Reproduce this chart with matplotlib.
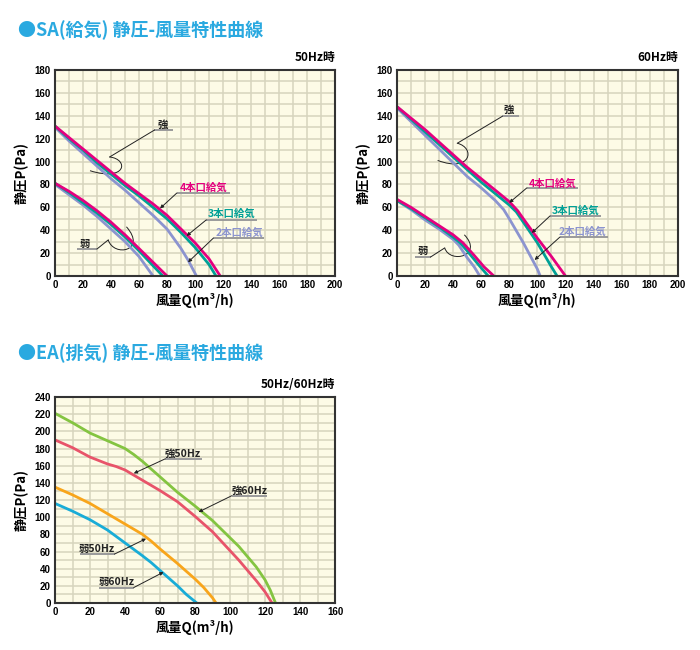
import numpy as np
import matplotlib
matplotlib.use("Agg")
import matplotlib.pyplot as plt
from matplotlib.path import Path
from matplotlib.patches import PathPatch
from matplotlib.ticker import MultipleLocator

plt.rcParams["font.family"] = ["Noto Sans CJK JP", "DejaVu Sans"]
plt.rcParams["font.weight"] = "bold"

# ---- SA 50Hz ----
sa50_x_4_strong = [0, 10, 20, 30, 40, 50, 60, 70, 80, 90, 100, 110, 118]
sa50_y_4_strong = [131, 121, 111, 101, 91, 81, 72, 63, 53, 41, 29, 15, 0]
sa50_x_3_strong = [0, 10, 20, 30, 40, 50, 60, 70, 80, 90, 100, 110, 115]
sa50_y_3_strong = [131, 120, 110, 99, 89, 79, 70, 60, 50, 38, 25, 10, 0]
sa50_x_2_strong = [0, 10, 20, 30, 40, 50, 60, 70, 80, 90, 95, 101]
sa50_y_2_strong = [130, 118, 107, 96, 85, 75, 64, 53, 41, 24, 14, 0]
sa50_x_4_weak = [0, 10, 20, 30, 40, 50, 60, 70, 80]
sa50_y_4_weak = [81, 74, 66, 57, 47, 36, 24, 12, 0]
sa50_x_3_weak = [0, 10, 20, 30, 40, 50, 60, 70, 77]
sa50_y_3_weak = [81, 73, 64, 55, 45, 34, 22, 9, 0]
sa50_x_2_weak = [0, 10, 20, 30, 40, 50, 60, 70]
sa50_y_2_weak = [80, 71, 62, 52, 41, 30, 17, 0]

# ---- SA 60Hz ----
sa60_x_4_strong = [0, 10, 20, 30, 40, 50, 60, 70, 80, 86, 90, 100, 110, 120]
sa60_y_4_strong = [148, 138, 128, 117, 106, 95, 85, 75, 65, 57, 50, 33, 17, 0]
sa60_x_3_strong = [0, 10, 20, 30, 40, 50, 60, 70, 80, 85, 90, 100, 110, 114]
sa60_y_3_strong = [148, 137, 126, 115, 104, 93, 82, 72, 62, 56, 47, 29, 8, 0]
sa60_x_2_strong = [0, 10, 20, 30, 40, 50, 60, 70, 76, 80, 90, 100, 102]
sa60_y_2_strong = [147, 135, 123, 111, 99, 87, 77, 66, 58, 50, 29, 6, 0]
sa60_x_4_weak = [0, 10, 20, 30, 40, 47, 55, 62, 69]
sa60_y_4_weak = [67, 60, 52, 44, 36, 29, 18, 8, 0]
sa60_x_3_weak = [0, 10, 20, 30, 40, 45, 50, 58, 65]
sa60_y_3_weak = [66, 59, 51, 43, 34, 29, 22, 10, 0]
sa60_x_2_weak = [0, 10, 20, 30, 40, 44, 50, 55, 59]
sa60_y_2_weak = [66, 58, 49, 41, 32, 27, 16, 8, 0]

# ---- EA ----
ea_x_strong60 = [0, 10, 20, 30, 40, 45, 50, 60, 70, 80, 90, 100, 105, 110, 115, 120, 123, 126]
ea_y_strong60 = [221, 210, 198, 189, 180, 173, 165, 147, 129, 113, 96, 76, 66, 54, 42, 27, 15, 0]
ea_x_strong50 = [0, 10, 20, 30, 35, 40, 50, 60, 70, 80, 90, 100, 105, 110, 115, 120, 124]
ea_y_strong50 = [190, 181, 170, 162, 159, 155, 143, 131, 118, 101, 83, 61, 50, 38, 26, 13, 0]
ea_x_weak50 = [0, 10, 20, 30, 40, 45, 50, 55, 60, 70, 80, 85, 90, 92]
ea_y_weak50 = [135, 126, 116, 104, 92, 86, 80, 72, 63, 46, 28, 18, 6, 0]
ea_x_weak60 = [0, 10, 20, 30, 40, 50, 55, 60, 70, 75, 81]
ea_y_weak60 = [116, 107, 97, 85, 70, 55, 47, 38, 20, 10, 0]

MAGENTA = "#e4007f"
TEAL = "#00a096"
LAVENDER = "#8c94cf"
GREEN = "#84c441"
RED = "#e8546a"
ORANGE = "#f8a51b"
BLUE = "#19acd7"
TITLE_C = "#2aa9e0"
BG = "#fdfbe6"
GRID_C = "#d6d5bd"

fig = plt.figure(figsize=(7, 6.5), dpi=100)


def setup_axes(rect, xmax, ymax):
    ax = fig.add_axes(rect)
    ax.set_facecolor(BG)
    ax.set_xlim(0, xmax)
    ax.set_ylim(0, ymax)
    ax.xaxis.set_major_locator(MultipleLocator(20))
    ax.yaxis.set_major_locator(MultipleLocator(20))
    ax.xaxis.set_minor_locator(MultipleLocator(10))
    ax.yaxis.set_minor_locator(MultipleLocator(10))
    ax.grid(True, which="both", color=GRID_C, linewidth=1.1)
    ax.set_axisbelow(True)
    ax.tick_params(which="both", length=0, labelsize=7, pad=3)
    for lab in ax.get_xticklabels() + ax.get_yticklabels():
        lab.set_fontweight("bold")
        lab.set_fontfamily("Liberation Sans")
    for s in ax.spines.values():
        s.set_linewidth(1.5)
        s.set_color("#333333")
    ax.set_xlabel("風量Q(m³/h)", fontsize=9.5, fontweight="bold", labelpad=2)
    ax.set_ylabel("静圧P(Pa)", fontsize=9.5, fontweight="bold", labelpad=4)
    return ax


def label(ax, text, color, tx, ty, ux0, ux1, uy, lx0, ly0, lx1, ly1, arrow=False):
    ax.text(tx, ty, text, color=color, fontsize=7.5, fontweight="bold",
            ha="center", va="center")
    ax.plot([ux0, ux1], [uy, uy], color="#9a9a9a", linewidth=1.4,
            solid_capstyle="butt")
    if arrow:
        ax.annotate("", xy=(lx1, ly1), xytext=(lx0, ly0),
                    arrowprops=dict(arrowstyle="-|>", color="#222222",
                                    lw=0.7, mutation_scale=5,
                                    shrinkA=0, shrinkB=0))
    else:
        ax.plot([lx0, lx1], [ly0, ly1], color="#222222", linewidth=0.7)


def curl(ax, pts):
    codes = [Path.MOVETO, Path.CURVE4, Path.CURVE4, Path.CURVE4]
    ax.add_patch(PathPatch(Path(pts, codes), fill=False,
                           edgecolor="#222222", linewidth=0.7))


lw = 2.0

# ---------- SA 50Hz ----------
ax1 = setup_axes([0.0786, 0.5754, 0.40, 0.3169], 200, 180)
ax1.plot(sa50_x_2_strong, sa50_y_2_strong, color=LAVENDER, lw=lw)
ax1.plot(sa50_x_3_strong, sa50_y_3_strong, color=TEAL, lw=lw)
ax1.plot(sa50_x_4_strong, sa50_y_4_strong, color=MAGENTA, lw=lw)
ax1.plot(sa50_x_2_weak, sa50_y_2_weak, color=LAVENDER, lw=lw)
ax1.plot(sa50_x_3_weak, sa50_y_3_weak, color=TEAL, lw=lw)
ax1.plot(sa50_x_4_weak, sa50_y_4_weak, color=MAGENTA, lw=lw)
label(ax1, "強", "#222222", 77, 132, 71, 84, 127.5, 71, 127.5, 39, 104)
curl(ax1, [(39, 104), (53, 102), (51, 82), (25, 92)])
label(ax1, "弱", "#222222", 21, 28, 16, 30, 23.6, 30, 23.6, 38, 31.5)
curl(ax1, [(38, 31.5), (42, 16), (66, 22), (51, 43)])
label(ax1, "4本口給気", MAGENTA, 106, 77, 87, 125, 72.5, 87, 72.5, 75, 59, arrow=True)
label(ax1, "3本口給気", TEAL, 126, 54, 108, 144, 49, 108, 49, 94, 35, arrow=True)
label(ax1, "2本口給気", LAVENDER, 132, 38, 113, 149, 33, 113, 33, 95, 12, arrow=True)
ax1.text(1.0, 1.03, "50Hz時", transform=ax1.transAxes, ha="right", va="bottom",
         fontsize=8.5, fontweight="bold")

# ---------- SA 60Hz ----------
ax2 = setup_axes([0.567, 0.5754, 0.4014, 0.3169], 200, 180)
ax2.plot(sa60_x_2_strong, sa60_y_2_strong, color=LAVENDER, lw=lw)
ax2.plot(sa60_x_3_strong, sa60_y_3_strong, color=TEAL, lw=lw)
ax2.plot(sa60_x_4_strong, sa60_y_4_strong, color=MAGENTA, lw=lw)
ax2.plot(sa60_x_2_weak, sa60_y_2_weak, color=LAVENDER, lw=lw)
ax2.plot(sa60_x_3_weak, sa60_y_3_weak, color=TEAL, lw=lw)
ax2.plot(sa60_x_4_weak, sa60_y_4_weak, color=MAGENTA, lw=lw)
label(ax2, "強", "#222222", 80, 145, 75, 87, 139.5, 75, 139.5, 43, 116)
curl(ax2, [(43, 116), (56, 112), (53, 90), (29, 101)])
label(ax2, "弱", "#222222", 18.5, 21.5, 13, 24, 16.6, 24, 16.6, 34, 24.5)
curl(ax2, [(34, 24.5), (38, 10), (62, 18), (48, 36)])
label(ax2, "4本口給気", MAGENTA, 111, 81, 92.5, 129, 77, 92.5, 77, 80, 64, arrow=True)
label(ax2, "3本口給気", TEAL, 127, 57, 109, 145, 52.5, 109, 52.5, 96, 37.6, arrow=True)
label(ax2, "2本口給気", LAVENDER, 132, 38.5, 116, 150, 34, 116, 34, 98, 14, arrow=True)
ax2.text(1.0, 1.03, "60Hz時", transform=ax2.transAxes, ha="right", va="bottom",
         fontsize=8.5, fontweight="bold")

# ---------- EA ----------
ax3 = setup_axes([0.0786, 0.0723, 0.40, 0.3169], 160, 240)
ax3.plot(ea_x_strong60, ea_y_strong60, color=GREEN, lw=lw)
ax3.plot(ea_x_strong50, ea_y_strong50, color=RED, lw=lw)
ax3.plot(ea_x_weak50, ea_y_weak50, color=ORANGE, lw=lw)
ax3.plot(ea_x_weak60, ea_y_weak60, color=BLUE, lw=lw)
label(ax3, "強50Hz", "#222222", 73, 174, 63, 84, 168, 63, 168, 45, 151, arrow=True)
label(ax3, "強60Hz", "#222222", 111, 130, 101, 121, 125, 101, 125, 82, 106, arrow=True)
label(ax3, "弱50Hz", "#222222", 24, 63, 14, 34, 57, 34, 57, 52, 75, arrow=True)
label(ax3, "弱60Hz", "#222222", 35, 24, 25, 45, 18, 45, 18, 62, 36, arrow=True)
ax3.text(1.0, 1.03, "50Hz/60Hz時", transform=ax3.transAxes, ha="right", va="bottom",
         fontsize=8.5, fontweight="bold")

fig.text(18 / 700, 1 - 30 / 650, "●SA(給気) 静圧-風量特性曲線", color=TITLE_C,
         fontsize=13, fontweight="bold", ha="left", va="center")
fig.text(18 / 700, 1 - 353 / 650, "●EA(排気) 静圧-風量特性曲線", color=TITLE_C,
         fontsize=13, fontweight="bold", ha="left", va="center")

fig.savefig("out.png", dpi=100, facecolor="white")
